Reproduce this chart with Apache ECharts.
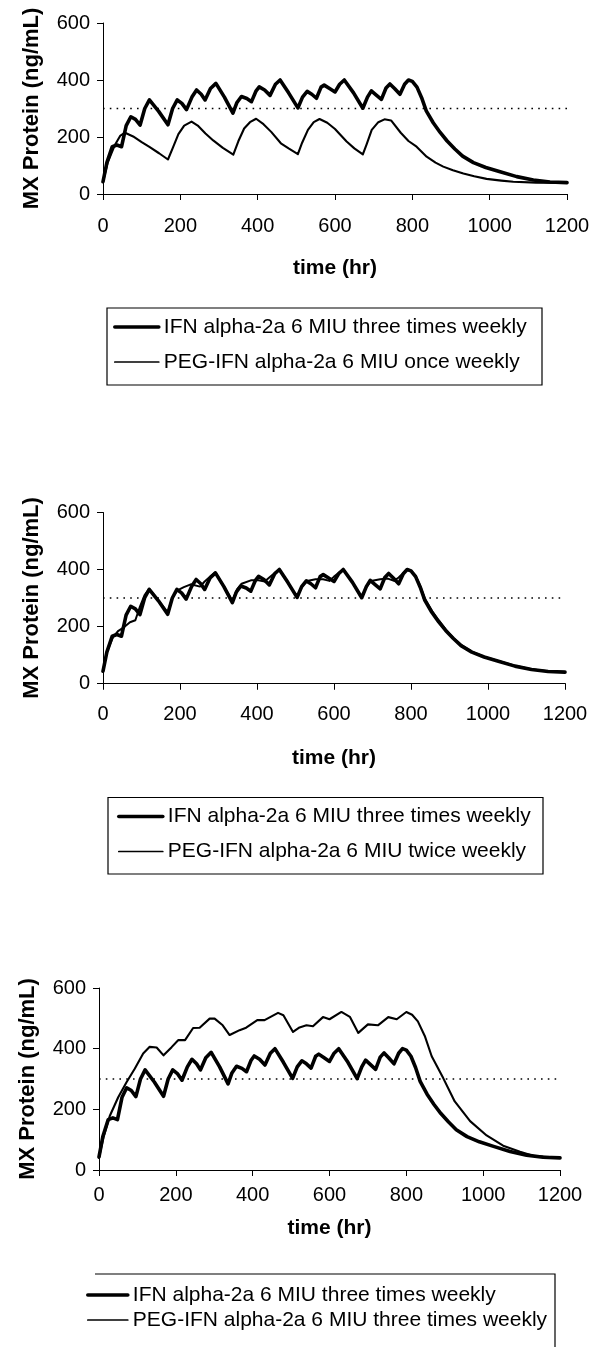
<!DOCTYPE html>
<html><head><meta charset="utf-8">
<script src="https://cdn.jsdelivr.net/npm/echarts@6/dist/echarts.min.js"></script>
<style>html,body{margin:0;padding:0;background:#fff}#c{width:601px;height:1347px}</style>
</head><body><div id="c"></div>
<script>
// ---- data (time in hr, MX protein in ng/mL) ----
const xTicks = [0, 200, 400, 600, 800, 1000, 1200];
const yTicks = [0, 200, 400, 600];
const threshold = 300;

const ifnT = [0,10,24,36,48,60,72,84,96,108,120,144,168,180,192,204,216,230,242,254,264,278,292,314,336,346,358,372,384,396,404,418,432,446,458,480,504,516,528,540,552,564,572,586,600,612,624,648,672,684,694,706,720,732,742,754,768,780,790,800,812,824,836,854,872,890,910,930,958,990,1027,1070,1113,1156,1200];
const ifnV = [43,110,166,172,166,240,271,262,242,300,330,290,243,300,330,318,296,340,365,350,330,370,388,340,284,320,342,335,324,362,376,365,346,385,400,355,302,340,360,350,336,375,382,370,358,385,400,355,301,340,362,348,332,372,386,370,350,385,400,395,375,338,292,250,216,186,158,133,110,93,78,61,49,42,40];

const pegOnceT = [0,12,30,45,57,78,100,120,145,168,180,195,210,229,245,265,285,310,337,350,365,380,396,415,435,460,480,504,515,530,545,560,580,600,630,650,672,682,695,712,728,745,770,790,811,837,860,880,905,932,960,992,1030,1061,1120,1200];
const pegOnceV = [43,110,170,205,215,202,182,165,143,121,160,210,240,254,240,212,188,162,138,185,230,252,264,245,218,178,160,140,180,225,252,263,250,228,184,160,139,175,225,252,262,258,215,186,166,131,110,96,83,72,62,53,47,43,40,39];

const pegTwiceT = [0,10,26,40,52,70,84,96,108,120,144,168,180,192,210,228,252,264,278,292,314,336,348,360,384,404,420,432,446,458,480,504,516,530,552,572,588,600,612,624,648,672,684,696,720,740,756,768,780,790,800,812,824,836,854,872,890,910,930,958,990,1027,1070,1113,1156,1200];
const pegTwiceV = [43,110,163,185,195,215,222,270,310,332,292,250,300,326,338,348,340,358,375,390,340,290,330,350,362,362,358,372,388,400,355,302,338,360,366,366,360,375,388,400,355,302,338,360,366,368,360,372,388,400,396,378,342,298,256,222,190,160,136,112,94,79,62,50,43,40];

const pegThriceT = [0,12,28,50,72,93,115,132,150,168,189,206,224,245,262,288,301,322,340,366,383,412,431,466,480,505,522,540,557,583,600,631,653,675,700,726,753,775,800,815,830,848,866,896,926,966,1009,1052,1096,1130,1200];
const pegThriceV = [40,110,178,240,290,334,384,406,404,378,405,428,428,468,469,499,499,477,445,461,469,494,494,518,510,455,470,477,474,504,497,521,505,452,480,477,504,497,521,512,490,442,375,303,226,161,114,80,60,47,40];

const nIFN = 'IFN alpha-2a 6 MIU three times weekly';
const nOnce = 'PEG-IFN alpha-2a 6 MIU once weekly';
const nTwice = 'PEG-IFN alpha-2a 6 MIU twice weekly';
const nThrice = 'PEG-IFN alpha-2a 6 MIU three times weekly';

// ---- helpers ----
const zip = (t, v) => t.map((x, i) => [x, v[i]]);
const FF = 'Liberation Sans, Arial, sans-serif';
const W_IFN = 3.6, W_PEG = 2.1;
const grids = [
  {left: 103, top: 23, width: 464, height: 171, labGap: 22, nameGap: 64, yNameGap: 60},
  {left: 103, top: 512.5, width: 462, height: 171, labGap: 21, nameGap: 64, yNameGap: 60},
  {left: 99, top: 988, width: 461, height: 182, labGap: 15, nameGap: 48, yNameGap: 60}
];

const xAxis = [], yAxis = [], series = [];
grids.forEach((g, i) => {
  const xb = {type: 'value', gridIndex: i, min: xTicks[0], max: xTicks[xTicks.length-1], interval: xTicks[1]-xTicks[0], splitLine: {show: false}};
  const yb = {type: 'value', gridIndex: i, min: yTicks[0], max: yTicks[yTicks.length-1], interval: yTicks[1]-yTicks[0], splitLine: {show: false}};
  xAxis.push(Object.assign({}, xb, {
    axisLine: {show: true, lineStyle: {color: '#000', width: 1}},
    axisTick: {show: true, length: 6, lineStyle: {color: '#000', width: 1}},
    axisLabel: {color: '#000', fontSize: 20, fontFamily: FF, margin: g.labGap, formatter: v => String(v)},
    name: 'time (hr)', nameLocation: 'middle', nameGap: g.nameGap,
    nameTextStyle: {color: '#000', fontSize: 21, fontWeight: 'bold', fontFamily: FF}
  }));
  xAxis.push(Object.assign({}, xb, {
    axisLine: {show: false}, axisTick: {show: true, inside: true, length: 6, lineStyle: {color: '#000', width: 1}},
    axisLabel: {show: false}
  }));
  yAxis.push(Object.assign({}, yb, {
    axisLine: {show: true, lineStyle: {color: '#000', width: 1}},
    axisTick: {show: true, length: 6, lineStyle: {color: '#000', width: 1}},
    axisLabel: {color: '#000', fontSize: 20, fontFamily: FF, margin: 13, formatter: v => String(v)},
    name: 'MX Protein (ng/mL)', nameLocation: 'middle', nameGap: g.yNameGap,
    nameTextStyle: {color: '#000', fontSize: 22, fontWeight: 'bold', fontFamily: FF}
  }));
  yAxis.push(Object.assign({}, yb, {
    axisLine: {show: false}, axisTick: {show: true, inside: true, length: 6, lineStyle: {color: '#000', width: 1}},
    axisLabel: {show: false}
  }));
});

function line(name, data, gi, width) {
  return {type: 'line', name, data, xAxisIndex: gi*2, yAxisIndex: gi*2, symbol: 'none', showSymbol: false,
    lineStyle: {color: '#000', width, join: 'round', cap: 'round'}, itemStyle: {color: '#000'}, z: width > 3 ? 3 : 4};
}
function dotted(gi) {
  return {type: 'line', name: 'threshold', data: [[xTicks[0], threshold], [xTicks[xTicks.length-1], threshold]],
    xAxisIndex: gi*2, yAxisIndex: gi*2, symbol: 'none', silent: true,
    lineStyle: {color: '#000', width: 1.6, type: [1.6, 5.2]}, z: 2};
}
const ifn = zip(ifnT, ifnV);
series.push(dotted(0), line(nIFN, ifn, 0, W_IFN), line(nOnce, zip(pegOnceT, pegOnceV), 0, W_PEG));
series.push(dotted(1), line(nIFN, ifn, 1, W_IFN), line(nTwice, zip(pegTwiceT, pegTwiceV), 1, 2));
series.push(dotted(2), line(nIFN, ifn, 2, W_IFN), line(nThrice, zip(pegThriceT, pegThriceV), 2, W_PEG));

const item = (name, w) => ({name, itemStyle: {opacity: 0}, lineStyle: {width: w, color: '#000', opacity: 1}});
const legendBase = {orient: 'vertical', padding: 0, itemWidth: 44, itemHeight: 14, selectedMode: false,
  itemStyle: {opacity: 0},
  textStyle: {color: '#000', fontSize: 21, fontFamily: FF, lineHeight: 21}};
const legend = [
  Object.assign({}, legendBase, {left: 113, top: 316.5, itemGap: 14, data: [item(nIFN, W_IFN), item(nOnce, 1.7)]}),
  Object.assign({}, legendBase, {left: 117, top: 806, itemGap: 14, data: [item(nIFN, W_IFN), item(nTwice, 1.7)]}),
  Object.assign({}, legendBase, {left: 86, top: 1284.5, itemGap: 4, itemWidth: 40, data: [item(nIFN, W_IFN), item(nThrice, 1.7)]})
];

const graphic = [
  {type: 'rect', shape: {x: 107, y: 308, width: 435, height: 77}, style: {fill: 'none', stroke: '#000', lineWidth: 1.2}},
  {type: 'rect', shape: {x: 108, y: 797.5, width: 435, height: 76.5}, style: {fill: 'none', stroke: '#000', lineWidth: 1.2}},
  {type: 'polyline', shape: {points: [[95, 1274], [555, 1274], [555, 1347]]}, style: {fill: 'none', stroke: '#000', lineWidth: 1.2}}
];

const chart = echarts.init(document.getElementById('c'), null, {renderer: 'canvas'});
chart.setOption({
  animation: false,
  backgroundColor: '#fff',
  grid: grids.map(g => ({left: g.left, top: g.top, width: g.width, height: g.height, containLabel: false})),
  xAxis, yAxis, series, legend, graphic
});
</script>
</body></html>
